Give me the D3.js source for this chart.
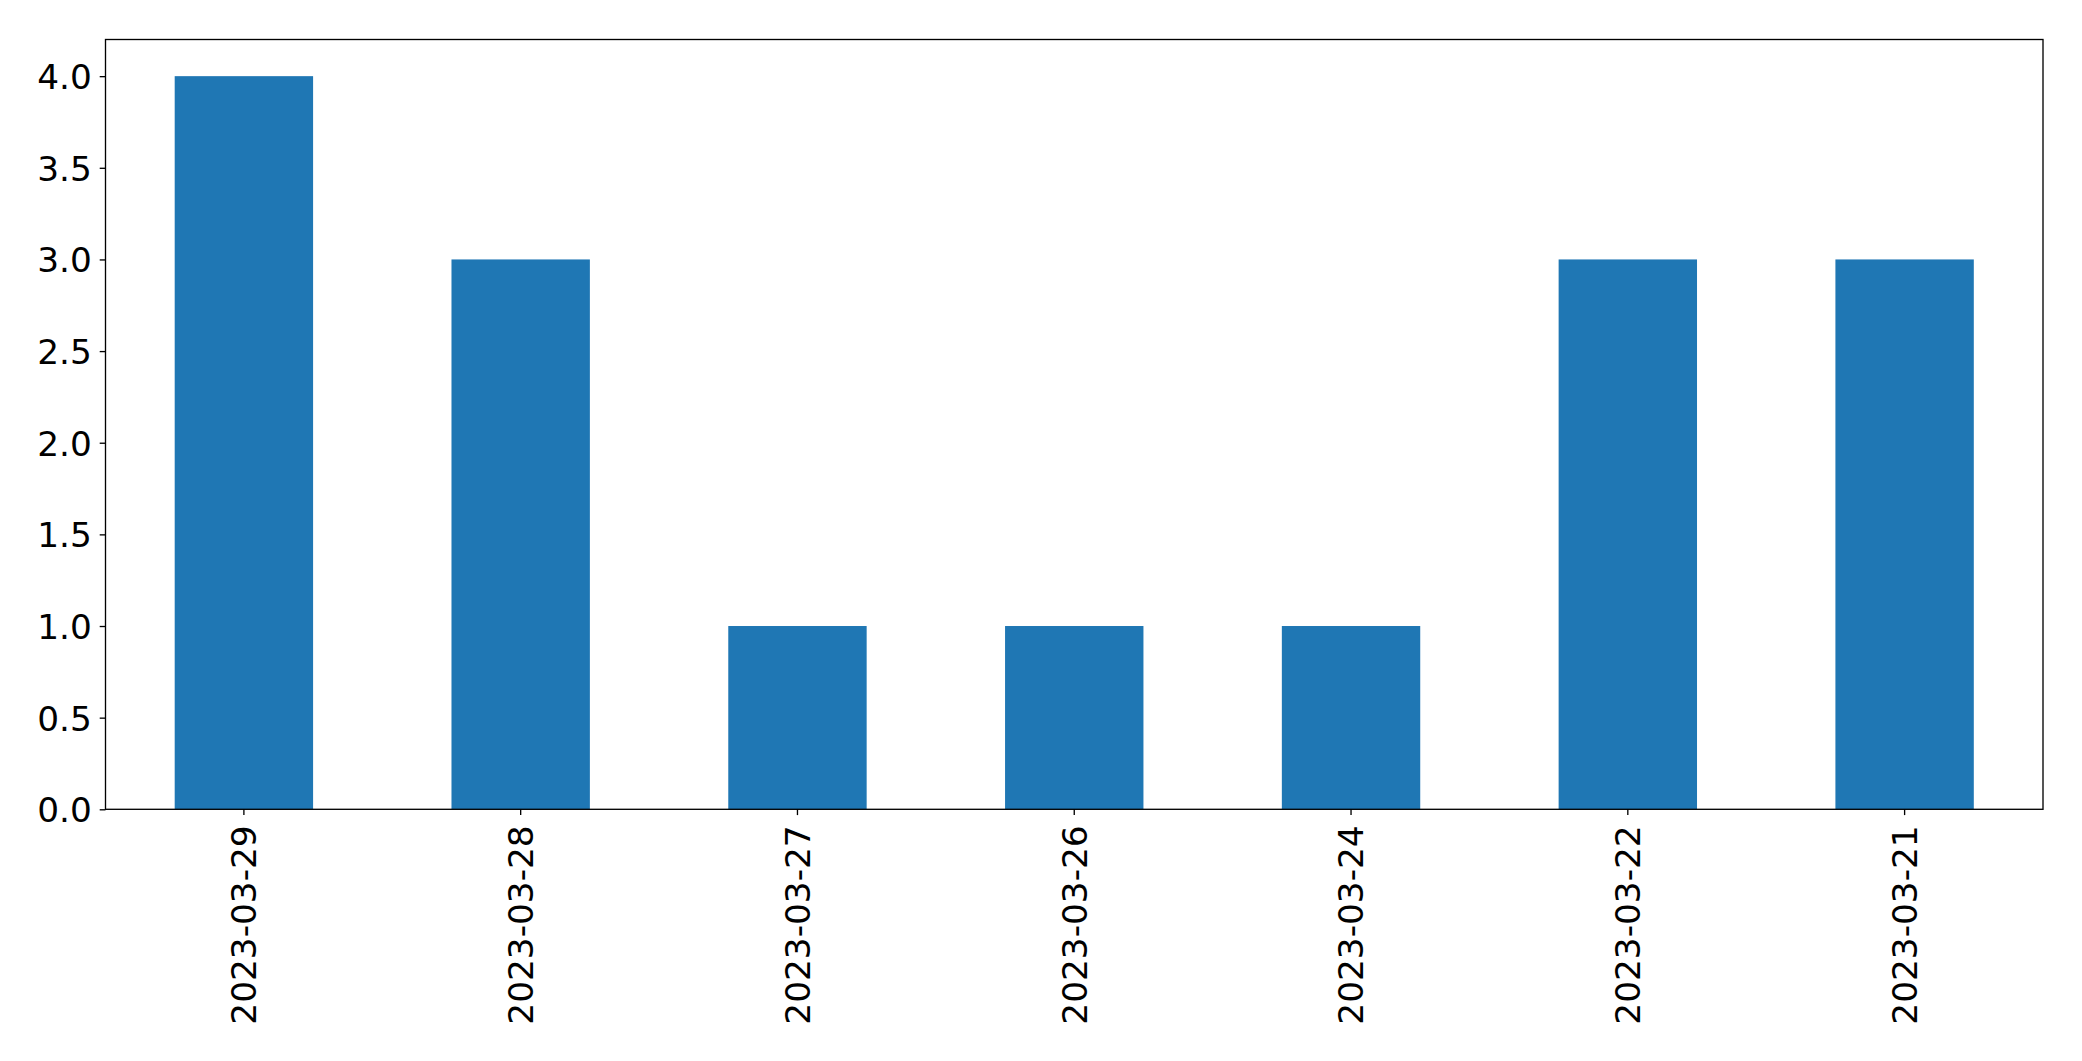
<!DOCTYPE html>
<html><head><meta charset="utf-8">
<script src="https://cdn.jsdelivr.net/npm/d3@7"></script>
<style>html,body{margin:0;padding:0;background:#fff;}</style>
</head><body>
<svg id="chart" width="2082" height="1061"></svg>
<script>
const categories = ["2023-03-29","2023-03-28","2023-03-27","2023-03-26","2023-03-24","2023-03-22","2023-03-21"];
const values = [4, 3, 1, 1, 1, 3, 3];
const yTicks = [0, 0.5, 1.0, 1.5, 2.0, 2.5, 3.0, 3.5, 4.0];

const svg = d3.select("#chart");
const L = 105.5, R = 2043, T = 39.5, B = 809.3;
const font = "DejaVu Sans, sans-serif";
const fs = 34.3;

const x = d3.scaleBand().domain(categories).range([L, R]).paddingInner(0.5).paddingOuter(0.25);
const y = d3.scaleLinear().domain([0, 4.2]).range([B, T]);

svg.append("g").selectAll("rect").data(values).join("rect")
  .attr("x", (d,i) => x(categories[i]))
  .attr("width", x.bandwidth())
  .attr("y", d => y(d))
  .attr("height", d => y(0) - y(d))
  .attr("fill", "#1f77b4");

svg.append("rect").attr("x", L).attr("y", T).attr("width", R - L).attr("height", B - T)
  .attr("fill", "none").attr("stroke", "#000").attr("stroke-width", 1.33);

const yAxis = svg.append("g").attr("transform", `translate(${L},0)`)
  .call(d3.axisLeft(y).tickValues(yTicks).tickFormat(d3.format(".1f")).tickSize(5.8).tickPadding(8));
yAxis.select(".domain").remove();
yAxis.selectAll("line").attr("stroke", "#000").attr("stroke-width", 1.33);
yAxis.selectAll("text").attr("font-family", font).attr("font-size", fs).attr("fill", "#000").attr("dy", "0.36em");

const xAxis = svg.append("g").attr("transform", `translate(0,${B})`)
  .call(d3.axisBottom(x).tickSize(5.8).tickPadding(0));
xAxis.select(".domain").remove();
xAxis.selectAll("line").attr("stroke", "#000").attr("stroke-width", 1.33);
xAxis.selectAll("text")
  .attr("font-family", font).attr("font-size", fs).attr("fill", "#000")
  .attr("text-anchor", "end")
  .attr("transform", "translate(0,16) rotate(-90)")
  .attr("x", 0).attr("y", 0).attr("dy", "0.36em");
</script>
</body></html>
